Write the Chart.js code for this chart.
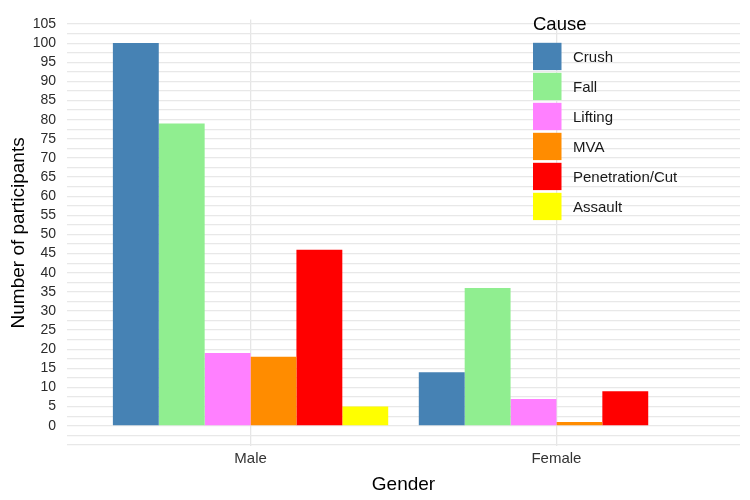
<!DOCTYPE html>
<html>
<head>
<meta charset="utf-8">
<script src="https://cdn.jsdelivr.net/npm/chart.js@4"></script>
<style>
  html, body { margin: 0; padding: 0; background: #fff; }
  #wrap { width: 750px; height: 500px; position: relative; }
</style>
</head>
<body>
<div id="wrap"><canvas id="c" width="750" height="500"></canvas></div>
<script>
const genders = ['Male', 'Female'];
const causes = ['Crush', 'Fall', 'Lifting', 'MVA', 'Penetration/Cut', 'Assault'];
const crush = [100, 14];
const fall = [79, 36];
const lifting = [19, 7];
const mva = [18, 1];
const penetration = [46, 9];
const assault = [5, 0];
const causeColors = ['#4682B4', '#90EE90', '#FF80FF', '#FF8C00', '#FF0000', '#FFFF00'];
const yTickLabels = [0, 5, 10, 15, 20, 25, 30, 35, 40, 45, 50, 55, 60, 65, 70, 75, 80, 85, 90, 95, 100, 105];
const yGridValues = [-5, -2.5, 0, 2.5, 5, 7.5, 10, 12.5, 15, 17.5, 20, 22.5, 25, 27.5, 30, 32.5, 35, 37.5, 40, 42.5, 45, 47.5, 50, 52.5, 55, 57.5, 60, 62.5, 65, 67.5, 70, 72.5, 75, 77.5, 80, 82.5, 85, 87.5, 90, 92.5, 95, 97.5, 100, 102.5, 105];

const seriesValues = [crush, fall, lifting, mva, penetration, assault];
const FONT = "'Liberation Sans', Arial, sans-serif";

const datasets = causes.map((name, k) => ({
  label: name,
  data: seriesValues[k].map((v, i) => ({ x: i + 1, y: v })),
  backgroundColor: causeColors[k],
  borderWidth: 0,
  categoryPercentage: 0.9,
  barPercentage: 1.0
}));

const insideLegend = {
  id: 'insideLegend',
  afterDraw(chart) {
    const ctx = chart.ctx;
    const x0 = 533, titleY = 24.5, keyTop = 42.8, step = 30, keyW = 28.5, keyH = 27.3;
    ctx.save();
    ctx.fillStyle = '#000';
    ctx.font = "18.5px " + FONT;
    ctx.textAlign = 'left';
    ctx.textBaseline = 'middle';
    ctx.fillText('Cause', x0, titleY);
    chart.data.datasets.forEach((ds, i) => {
      const y = keyTop + i * step;
      ctx.fillStyle = ds.backgroundColor;
      ctx.fillRect(x0, y, keyW, keyH);
      ctx.fillStyle = '#1a1a1a';
      ctx.font = "15px " + FONT;
      ctx.fillText(ds.label, 573, y + keyH / 2 + 1);
    });
    ctx.restore();
  }
};

new Chart(document.getElementById('c'), {
  type: 'bar',
  data: { datasets },
  options: {
    responsive: false,
    animation: false,
    layout: { padding: { top: 5, right: 10, left: 0, bottom: 0 } },
    plugins: { legend: { display: false }, tooltip: { enabled: false } },
    scales: {
      x: {
        type: 'linear',
        offset: false,
        min: 0.4,
        max: 2.6,
        afterBuildTicks(scale) { scale.ticks = genders.map((g, i) => ({ value: i + 1 })); },
        afterFit(scale) { scale.height = 53.6; },
        grid: { color: '#E6E6E6', lineWidth: 1.3, drawTicks: false, offset: false },
        border: { display: false },
        ticks: {
          padding: 3,
          color: '#333',
          font: { family: FONT, size: 15 },
          callback: (v) => genders[v - 1] || ''
        },
        title: {
          display: true,
          text: 'Gender',
          color: '#000',
          font: { family: FONT, size: 19 },
          padding: { top: 0, bottom: 4 }
        }
      },
      y: {
        type: 'linear',
        min: -5.4,
        max: 106.2,
        afterBuildTicks(scale) { scale.ticks = yGridValues.map(v => ({ value: v })); },
        afterFit(scale) { scale.width = 67; },
        grid: { color: '#E8E8E8', lineWidth: 1.2, drawTicks: false },
        border: { display: false },
        ticks: {
          padding: 11,
          color: '#2b2b2b',
          font: { family: FONT, size: 14 },
          autoSkip: false,
          callback: (v) => yTickLabels.includes(v) ? String(v) : ''
        },
        title: {
          display: true,
          text: 'Number of participants',
          color: '#000',
          font: { family: FONT, size: 19 },
          padding: { top: 7, bottom: 0 }
        }
      }
    }
  },
  plugins: [insideLegend]
});
</script>
</body>
</html>
